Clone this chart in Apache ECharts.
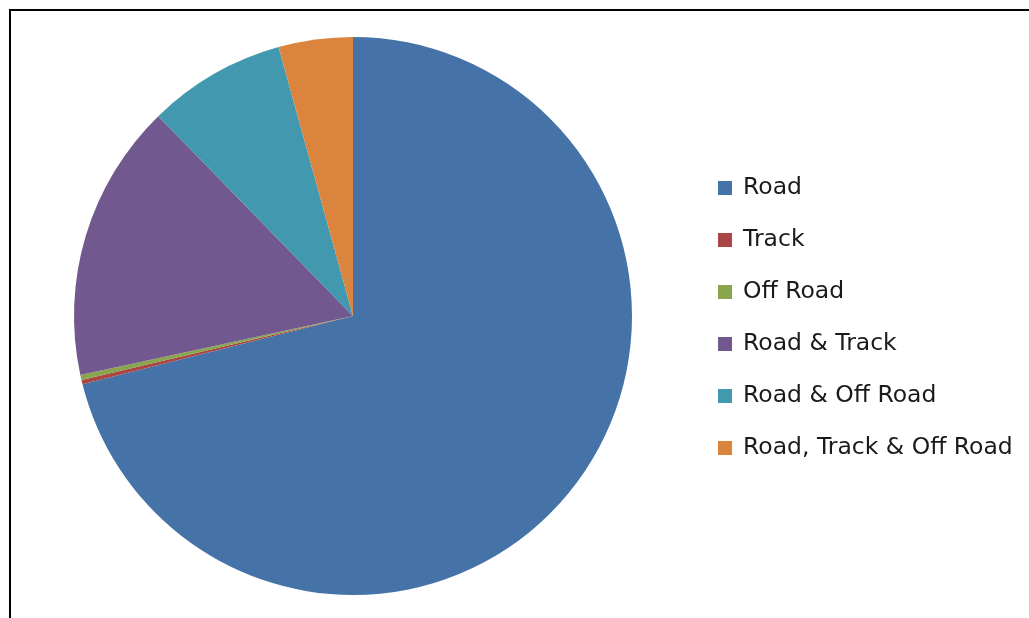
<!DOCTYPE html>
<html><head><meta charset="utf-8">
<script src="https://cdn.jsdelivr.net/npm/echarts@6/dist/echarts.min.js"></script>
<style>html,body{margin:0;padding:0;background:#fff}#c{width:1029px;height:618px}</style>
</head><body><div id="c"></div>
<script>
const categories = ["Road", "Track", "Off Road", "Road & Track", "Road & Off Road", "Road, Track & Off Road"];
const values = [71.1, 0.25, 0.3, 16.1, 8.0, 4.3];
const colors = ["#4572A7", "#AA4643", "#89A54E", "#71588F", "#4198AF", "#DB843D"];

const chart = echarts.init(document.getElementById('c'), null, {renderer: 'canvas'});
chart.setOption({
  animation: false,
  backgroundColor: '#fff',
  color: colors,
  graphic: [{
    type: 'rect', shape: {x: 10, y: 10, width: 1100, height: 700},
    style: {fill: 'none', stroke: '#000', lineWidth: 2}, z: 100
  }],
  legend: {
    orient: 'vertical', left: 713, top: 170,
    itemWidth: 14, itemHeight: 14, itemGap: 26,
    icon: 'rect',
    textStyle: {fontFamily: 'DejaVu Sans', fontSize: 23.5, lineHeight: 26, color: '#1a1a1a', padding: [0,0,0,6]},
    data: categories
  },
  series: [{
    type: 'pie', center: [353, 316], radius: 279, startAngle: 90, clockwise: true,
    label: {show: false}, labelLine: {show: false},
    itemStyle: {borderWidth: 0},
    emphasis: {disabled: true},
    data: categories.map((n, i) => ({name: n, value: values[i]}))
  }]
});
</script></body></html>
